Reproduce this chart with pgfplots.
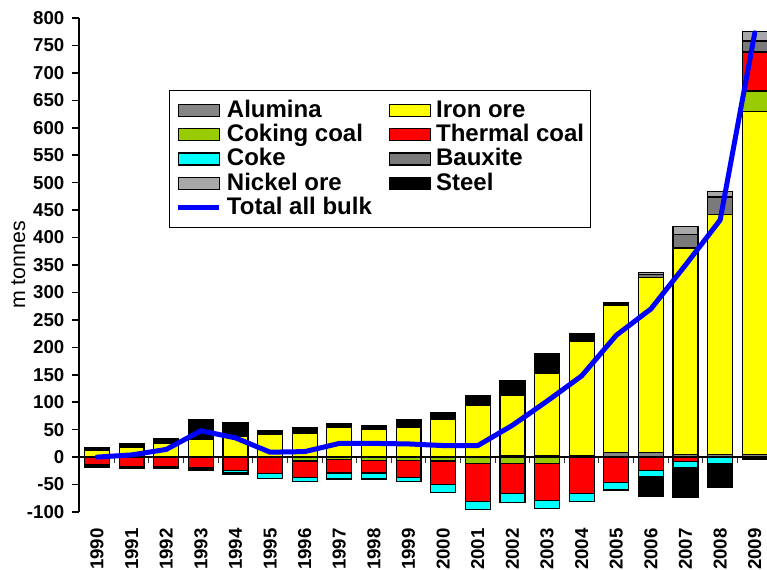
\documentclass[border=0pt]{standalone}
\usepackage{fontspec}
\setmainfont{Liberation Sans}
\usepackage{pgfplots}
\usepackage{pgfplotstable}
\pgfplotsset{compat=1.18}

\definecolor{alumina}{HTML}{858585}
\definecolor{ironore}{HTML}{FFFF00}
\definecolor{cokingcoal}{HTML}{99CC00}
\definecolor{thermalcoal}{HTML}{FF0000}
\definecolor{coke}{HTML}{00FFFF}
\definecolor{bauxite}{HTML}{7A7A7A}
\definecolor{nickelore}{HTML}{A8A8A8}
\definecolor{steel}{HTML}{000000}
\definecolor{totalbulk}{HTML}{0000FF}

% exports (m tonnes), positive side of each bar
\pgfplotstableread{
year alumina iron coking thermal bauxite nickel steel
1990 0 12   0  0  0  0  6
1991 0 17.5 0  0  0  0  6.5
1992 0 25.5 0  0  0  0  7.5
1993 0 33   0  0  0  0  36
1994 0 37   0  0  0  0  25
1995 0 41   0  0  0  0  7.5
1996 0 43   0  0  0  0  11
1997 0 55   0  0  0  0  6.5
1998 0 51   0  0  0  0  7
1999 0 55   0  0  0  0  14
2000 0 68   0  0  0  0  14
2001 0 94   0  0  0  0  18
2002 2 111  0  0  0  0  26
2003 3 149  0  0  0  0  37
2004 3 208  0  0  0  0  14
2005 8 268  0  0  0  0  6
2006 8 319  0  0  6  4  0
2007 5 376  0  0  24 15 0
2008 5 437  0  0  32 10 0
2009 5 624  38 71 20 18 0
}\exportspos

% negative side of each bar
\pgfplotstableread{
year coking thermal coke steel
1990 0   -14 0   -4
1991 0   -18 0   -3
1992 0   -18 0   -3
1993 0   -20 0   -5
1994 0   -25 -4  -2
1995 0   -30 -9  0
1996 -7  -30 -8  0
1997 -5  -24 -11 0
1998 -6  -23 -11 0
1999 -6  -31 -8  0
2000 -7  -43 -14 0
2001 -12 -69 -14 0
2002 -12 -55 -15 0
2003 -12 -67 -14 0
2004 0   -66 -15 0
2005 0   -46 -14 0
2006 0   -24 -11 -36
2007 0   -8  -12 -53
2008 0   0   -12 -43
2009 0   0   0   -5
}\exportsneg

% total of all bulk commodities
\pgfplotstableread{
year total
1990 0
1991 4
1992 14
1993 48
1994 35
1995 9
1996 10
1997 25
1998 25
1999 24
2000 21
2001 21
2002 58
2003 102
2004 148
2005 222
2006 270
2007 350
2008 432
2009 773
}\totalbulk

\pgfplotsset{
  common panel/.style={
    scale only axis, width=516pt, height=370.5pt,
    xmin=1989.48, xmax=2009.353, ymin=-100, ymax=800,
    at={(0pt,0pt)}, anchor=south west,
  },
  bars/.style={ybar stacked, bar width=0.72, draw=black, line width=0.9pt},
  swatch/.style={legend image code/.code={%
    \path (-1.5pt,0pt);
    \draw[##1, draw=black, line width=0.8pt] (0pt,-4.5pt) rectangle (30.75pt,4.5pt);}},
  bulkline/.style={legend image code/.code={%
    \path (-1.5pt,0pt);
    \draw[##1] (0pt,0pt) -- (30.75pt,0pt);}},
}

\begin{document}
\begin{tikzpicture}
% positive stacks, value axis, year labels, legend
\begin{axis}[common panel, bars,
  axis lines*=left,
  x axis line style={draw=none},
  y axis line style={line width=1.1pt},
  tick align=outside,
  major tick length=5pt,
  ytick={-100,-50,...,800},
  ytick style={line width=1.1pt, black},
  yticklabel shift=2.25pt,
  xtick={1990,...,2009},
  xtick style={draw=none},
  xticklabel style={rotate=90, anchor=east},
  xticklabel shift=3.5pt,
  tick label style={font=\fontsize{14}{16}\selectfont\bfseries},
  /pgf/number format/assume math mode=true,
  /pgf/number format/1000 sep={},
  ylabel={m tonnes},
  ylabel style={at={(axis description cs:-0.0783,0.5)}, anchor=base,
    font=\fontsize{16}{18}\selectfont},
  legend columns=2,
  legend cell align=left,
  legend style={at={(axis description cs:0.1308,0.8543)}, anchor=north west,
    draw=black, line width=1pt, fill=white,
    inner xsep=3pt, inner ysep=5.5pt,
    font=\fontsize{18}{20}\selectfont\bfseries,
    nodes={text height=13pt, text depth=2.5pt, inner ysep=1.4pt, inner xsep=2pt},
    /tikz/every odd column/.append style={column sep=2pt},
    /tikz/every even column/.append style={column sep=9pt}},
]
\addlegendimage{swatch, fill=alumina}
\addlegendentry{Alumina}
\addlegendimage{swatch, fill=ironore}
\addlegendentry{Iron ore}
\addlegendimage{swatch, fill=cokingcoal}
\addlegendentry{Coking coal}
\addlegendimage{swatch, fill=thermalcoal}
\addlegendentry{Thermal coal}
\addlegendimage{swatch, fill=coke}
\addlegendentry{Coke}
\addlegendimage{swatch, fill=bauxite}
\addlegendentry{Bauxite}
\addlegendimage{swatch, fill=nickelore}
\addlegendentry{Nickel ore}
\addlegendimage{swatch, fill=steel}
\addlegendentry{Steel}
\addlegendimage{bulkline, totalbulk, line width=3.75pt}
\addlegendentry{Total all bulk}

\addplot[fill=alumina, forget plot] table[x=year, y=alumina]{\exportspos};
\addplot[fill=ironore, forget plot] table[x=year, y=iron]{\exportspos};
\addplot[fill=cokingcoal, forget plot] table[x=year, y=coking]{\exportspos};
\addplot[fill=thermalcoal, forget plot] table[x=year, y=thermal]{\exportspos};
\addplot[fill=bauxite, forget plot] table[x=year, y=bauxite]{\exportspos};
\addplot[fill=nickelore, forget plot] table[x=year, y=nickel]{\exportspos};
\addplot[fill=steel, forget plot] table[x=year, y=steel]{\exportspos};
\end{axis}

% negative stacks
\begin{axis}[common panel, bars, hide axis]
\addplot[fill=cokingcoal] table[x=year, y=coking]{\exportsneg};
\addplot[fill=thermalcoal] table[x=year, y=thermal]{\exportsneg};
\addplot[fill=coke] table[x=year, y=coke]{\exportsneg};
\addplot[fill=steel] table[x=year, y=steel]{\exportsneg};
\end{axis}

% zero line with separators, and the total line
\begin{axis}[common panel,
  axis x line=middle, axis y line=none,
  x axis line style={-, line width=1.5pt, black},
  xtick={1990.5,1991.5,...,2008.5}, xticklabels={},
  ytick=\empty,
  tick align=outside, major tick length=4.5pt,
  xtick style={line width=0.75pt, black!80},
]
\addplot[totalbulk, line width=3.75pt, line join=round, line cap=round]
  table[x=year, y=total]{\totalbulk};
\end{axis}
\pgfresetboundingbox
\useasboundingbox (-59.25pt,-43.5pt) rectangle (516pt,384pt);
\end{tikzpicture}
\end{document}
